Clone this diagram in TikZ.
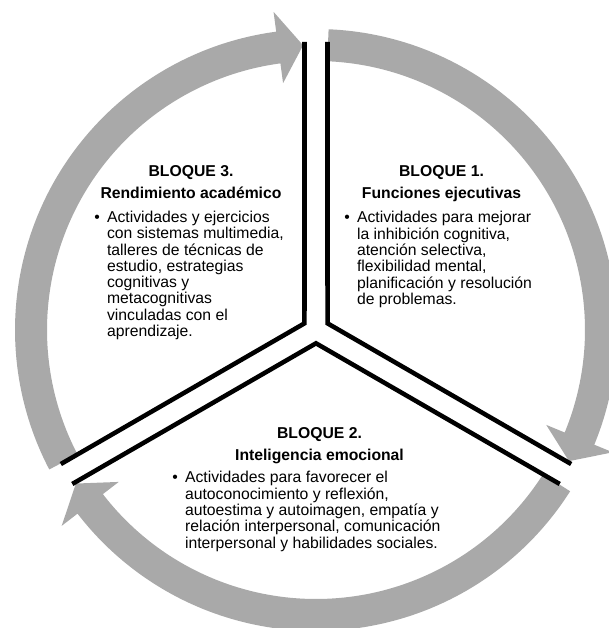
\documentclass[tikz,border=0pt]{standalone}
\usepackage{fontspec}
\setmainfont{Liberation Sans}
\usepackage{tikz}
\usetikzlibrary{calc}
\definecolor{arcgray}{RGB}{169,169,169}

\begin{document}
\begin{tikzpicture}[x=0.75pt,y=0.75pt,
  title/.style={font=\fontsize{11.8}{14}\selectfont\bfseries, inner sep=0pt, anchor=base},
  body/.style={font=\fontsize{11.8}{12.1}\selectfont, inner sep=0pt, anchor=base west},
  divider/.style={line width=3.4pt, line join=miter, black}]
\useasboundingbox (-316,-298) rectangle (293,330);

% Cycle arrows (start angle / tip angle / back of head)
\foreach \s/\e/\b in {87.6/-27.4/-22.4, -32.4/-147.4/-142.4, 207.6/92.6/97.6}
  \fill[arcgray] (\s:269) arc[start angle=\s, end angle=\b, radius=269]
    -- (\b:249) -- (\e:285) -- (\b:321) -- (\b:301)
    arc[start angle=\b, end angle=\s, radius=301] -- cycle;

% Dividers
\coordinate (J1) at (30:13.3);
\coordinate (J2) at (150:13.3);
\coordinate (J3) at (270:13.3);
\coordinate (E1) at ($(90:288)+(180:11.5)$);
\coordinate (E2) at ($(210:288)+(120:11.5)$);
\coordinate (E3) at ($(90:288)+(0:11.5)$);
\coordinate (E4) at ($(-30:288)+(60:11.5)$);
\coordinate (E5) at ($(-30:288)+(240:11.5)$);
\coordinate (E6) at ($(210:288)+(300:11.5)$);
\draw[divider] (E1) -- (J2) -- (E2);
\draw[divider] (E3) -- (J1) -- (E4);
\draw[divider] (E5) -- (J3) -- (E6);

% Block 1
\node[title] (t1a) at (125.5,153.4) {BLOQUE 1.};
\node[title] (t1b) at (125.5,131.7) {Funciones ejecutivas};
\node[body] (b1) at (28,107.4) {\begin{tabular}[t]{@{}l@{\hspace{5.5pt}}l@{}}
\textbullet & Actividades para mejorar\\
 & la inhibición cognitiva,\\
 & atención selectiva,\\
 & flexibilidad mental,\\
 & planificación y resolución\\
 & de problemas.
\end{tabular}};

% Block 2
\node[title] (t2a) at (3.5,-108.6) {BLOQUE 2.};
\node[title] (t2b) at (3.5,-130.6) {Inteligencia emocional};
\node[body] (b2) at (-144,-152.6) {\begin{tabular}[t]{@{}l@{\hspace{5.5pt}}l@{}}
\textbullet & Actividades para favorecer el\\
 & autoconocimiento y reflexión,\\
 & autoestima y autoimagen, empatía y\\
 & relación interpersonal, comunicación\\
 & interpersonal y habilidades sociales.
\end{tabular}};

% Block 3
\node[title] (t3a) at (-125,153.4) {BLOQUE 3.};
\node[title] (t3b) at (-125,131.7) {Rendimiento académico};
\node[body] (b3) at (-222,107.4) {\begin{tabular}[t]{@{}l@{\hspace{5.5pt}}l@{}}
\textbullet & Actividades y ejercicios\\
 & con sistemas multimedia,\\
 & talleres de técnicas de\\
 & estudio, estrategias\\
 & cognitivas y\\
 & metacognitivas\\
 & vinculadas con el\\
 & aprendizaje.
\end{tabular}};
\end{tikzpicture}
\end{document}
